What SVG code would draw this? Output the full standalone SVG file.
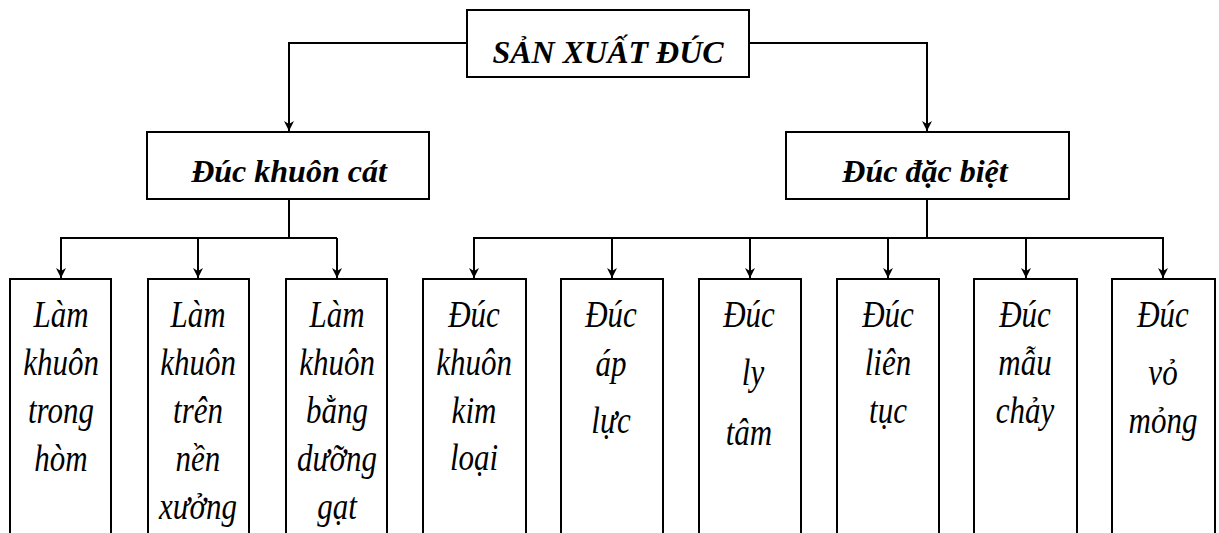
<svg xmlns="http://www.w3.org/2000/svg" width="1219" height="533" viewBox="0 0 1219 533">
<style>
.box{fill:#fff;stroke:#000;stroke-width:2}
.ln{fill:none;stroke:#000;stroke-width:2}
.h{font-family:"Liberation Serif","Times New Roman",serif;font-weight:bold;font-style:italic;font-size:32px;text-anchor:middle;fill:#000}
.t{font-family:"Liberation Serif","Times New Roman",serif;font-style:italic;font-size:31px;text-anchor:middle;fill:#000}
</style>
<defs>
<marker id="ah" markerUnits="userSpaceOnUse" markerWidth="10" markerHeight="12" refX="10" refY="5" orient="auto" viewBox="0 0 10 10">
<path d="M0,0 L10,5 L0,10 L3,5 z" fill="#000"/>
</marker>
</defs>
<rect width="1219" height="533" fill="#fff"/>
<g id="connectors">
<path class="ln" d="M467,43 H289 V131" marker-end="url(#ah)"/>
<path class="ln" d="M749,43 H927 V131" marker-end="url(#ah)"/>
<path class="ln" d="M289,199 V238"/>
<path class="ln" d="M60,238 H337"/>
<path class="ln" d="M61,238 V278" marker-end="url(#ah)"/>
<path class="ln" d="M198,238 V278" marker-end="url(#ah)"/>
<path class="ln" d="M337,238 V278" marker-end="url(#ah)"/>
<path class="ln" d="M927,199 V238"/>
<path class="ln" d="M473,238 H1164"/>
<path class="ln" d="M474,238 V278" marker-end="url(#ah)"/>
<path class="ln" d="M612,238 V278" marker-end="url(#ah)"/>
<path class="ln" d="M750,238 V278" marker-end="url(#ah)"/>
<path class="ln" d="M888,238 V278" marker-end="url(#ah)"/>
<path class="ln" d="M1026,238 V278" marker-end="url(#ah)"/>
<path class="ln" d="M1163,238 V278" marker-end="url(#ah)"/>
</g>
<g id="n_root">
<rect class="box" x="467" y="10" width="282" height="67"/>
<text class="h" x="608" y="63">SẢN XUẤT ĐÚC</text>
</g>
<g id="n_cat">
<rect class="box" x="147" y="132" width="282" height="67"/>
<text class="h" x="289" y="182">Đúc khuôn cát</text>
</g>
<g id="n_dacbiet">
<rect class="box" x="786" y="132" width="283" height="67"/>
<text class="h" x="925" y="182">Đúc đặc biệt</text>
</g>
<g id="n1">
<rect class="box" x="10" y="279" width="101" height="270"/>
<text class="t" transform="translate(61,327) scale(1,1.2)">Làm</text>
<text class="t" transform="translate(61,375) scale(1,1.2)">khuôn</text>
<text class="t" transform="translate(61,423) scale(1,1.2)">trong</text>
<text class="t" transform="translate(61,471) scale(1,1.2)">hòm</text>
</g>
<g id="n2">
<rect class="box" x="148" y="279" width="101" height="270"/>
<text class="t" transform="translate(198,327) scale(1,1.2)">Làm</text>
<text class="t" transform="translate(198,375) scale(1,1.2)">khuôn</text>
<text class="t" transform="translate(198,423) scale(1,1.2)">trên</text>
<text class="t" transform="translate(198,471) scale(1,1.2)">nền</text>
<text class="t" transform="translate(198,519) scale(1,1.2)">xưởng</text>
</g>
<g id="n3">
<rect class="box" x="286" y="279" width="101" height="270"/>
<text class="t" transform="translate(337,327) scale(1,1.2)">Làm</text>
<text class="t" transform="translate(337,375) scale(1,1.2)">khuôn</text>
<text class="t" transform="translate(337,423) scale(1,1.2)">bằng</text>
<text class="t" transform="translate(337,471) scale(1,1.2)">dưỡng</text>
<text class="t" transform="translate(337,519) scale(1,1.2)">gạt</text>
</g>
<g id="n4">
<rect class="box" x="423" y="279" width="103" height="270"/>
<text class="t" transform="translate(474,327) scale(1,1.2)">Đúc</text>
<text class="t" transform="translate(474,375) scale(1,1.2)">khuôn</text>
<text class="t" transform="translate(474,423) scale(1,1.2)">kim</text>
<text class="t" transform="translate(474,470) scale(1,1.2)">loại</text>
</g>
<g id="n5">
<rect class="box" x="561" y="279" width="102" height="270"/>
<text class="t" transform="translate(611,327) scale(1,1.2)">Đúc</text>
<text class="t" transform="translate(611,376) scale(1,1.2)">áp</text>
<text class="t" transform="translate(611,433) scale(1,1.2)">lực</text>
</g>
<g id="n6">
<rect class="box" x="699" y="279" width="102" height="270"/>
<text class="t" transform="translate(749,327) scale(1,1.2)">Đúc</text>
<text class="t" transform="translate(753,385) scale(1,1.2)">ly</text>
<text class="t" transform="translate(749,445) scale(1,1.2)">tâm</text>
</g>
<g id="n7">
<rect class="box" x="837" y="279" width="102" height="270"/>
<text class="t" transform="translate(888,327) scale(1,1.2)">Đúc</text>
<text class="t" transform="translate(888,375) scale(1,1.2)">liên</text>
<text class="t" transform="translate(888,423) scale(1,1.2)">tục</text>
</g>
<g id="n8">
<rect class="box" x="974" y="279" width="103" height="270"/>
<text class="t" transform="translate(1025,327) scale(1,1.2)">Đúc</text>
<text class="t" transform="translate(1025,375) scale(1,1.2)">mẫu</text>
<text class="t" transform="translate(1025,423) scale(1,1.2)">chảy</text>
</g>
<g id="n9">
<rect class="box" x="1112" y="279" width="103" height="270"/>
<text class="t" transform="translate(1163,327) scale(1,1.2)">Đúc</text>
<text class="t" transform="translate(1163,385) scale(1,1.2)">vỏ</text>
<text class="t" transform="translate(1163,433) scale(1,1.2)">mỏng</text>
</g>
</svg>
